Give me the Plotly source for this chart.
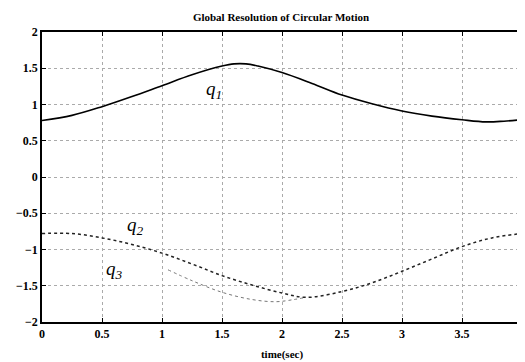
import plotly.graph_objects as go

t1 = [0, 0.25, 0.5, 0.75, 1.0, 1.25, 1.5, 1.6, 1.7, 1.8, 2.0, 2.25, 2.5, 2.75, 3.0, 3.25, 3.5, 3.7, 3.85, 4.0]
q1 = [0.78, 0.85, 0.97, 1.11, 1.26, 1.41, 1.53, 1.56, 1.56, 1.53, 1.44, 1.29, 1.13, 1.01, 0.91, 0.84, 0.79, 0.76, 0.77, 0.79]

t2 = [0, 0.25, 0.5, 0.75, 1.0, 1.25, 1.5, 1.75, 2.0, 2.2, 2.5, 2.75, 3.0, 3.25, 3.5, 3.75, 4.0]
q2 = [-0.78, -0.78, -0.84, -0.93, -1.05, -1.2, -1.36, -1.49, -1.6, -1.66, -1.58, -1.46, -1.3, -1.13, -0.96, -0.84, -0.78]

t3 = [1.05, 1.25, 1.5, 1.75, 1.95, 2.1, 2.2]
q3 = [-1.28, -1.43, -1.59, -1.69, -1.72, -1.69, -1.66]

x_ticks = [0, 0.5, 1, 1.5, 2, 2.5, 3, 3.5, 4]
y_ticks = [-2, -1.5, -1, -0.5, 0, 0.5, 1, 1.5, 2]

font = "Liberation Serif"

fig = go.Figure()
fig.add_trace(go.Scatter(x=t1, y=q1, mode="lines", line=dict(color="black", width=1.6, shape="spline", smoothing=1.0), showlegend=False))
fig.add_trace(go.Scatter(x=t2, y=q2, mode="lines", line=dict(color="#222222", width=1.5, dash="dot", shape="spline"), showlegend=False))
fig.add_trace(go.Scatter(x=t3, y=q3, mode="lines", line=dict(color="#777777", width=1, dash="dot", shape="spline"), showlegend=False))

labels = [(1.43, 1.2, "q<sub>1</sub>"), (0.78, -0.68, "q<sub>2</sub>"), (0.6, -1.28, "q<sub>3</sub>")]
for lx, ly, txt in labels:
    fig.add_annotation(x=lx, y=ly, text="<i>" + txt + "</i>", showarrow=False,
                       font=dict(family=font, size=19, color="black"))

tickfont = dict(family=font, size=12, color="black", weight="bold")

fig.update_layout(
    width=525, height=362,
    margin=dict(l=33, r=8, t=24, b=48),
    paper_bgcolor="white", plot_bgcolor="white",
    title=dict(text="Global Resolution of Circular Motion", x=0.52, xanchor="center", y=0.985, yanchor="top",
               font=dict(family=font, size=11, color="black", weight="bold")),
    font=dict(family=font, color="black"),
)
fig.update_xaxes(range=[0, 4], tickvals=x_ticks,
                 showgrid=True, gridcolor="#aaaaaa", griddash="dot", gridwidth=1,
                 showline=True, linecolor="black", linewidth=1.5, mirror="ticks",
                 ticks="inside", ticklen=4, tickcolor="black", zeroline=False,
                 tickfont=tickfont,
                 title=dict(text="time(sec)", font=dict(family=font, size=11, color="black", weight="bold"), standoff=10))
fig.update_yaxes(range=[-2, 2], tickvals=y_ticks,
                 showgrid=True, gridcolor="#aaaaaa", griddash="dot", gridwidth=1,
                 showline=True, linecolor="black", linewidth=1.5, mirror="ticks",
                 ticks="inside", ticklen=4, tickcolor="black", zeroline=False,
                 tickfont=tickfont)

fig.write_html("out.html")
